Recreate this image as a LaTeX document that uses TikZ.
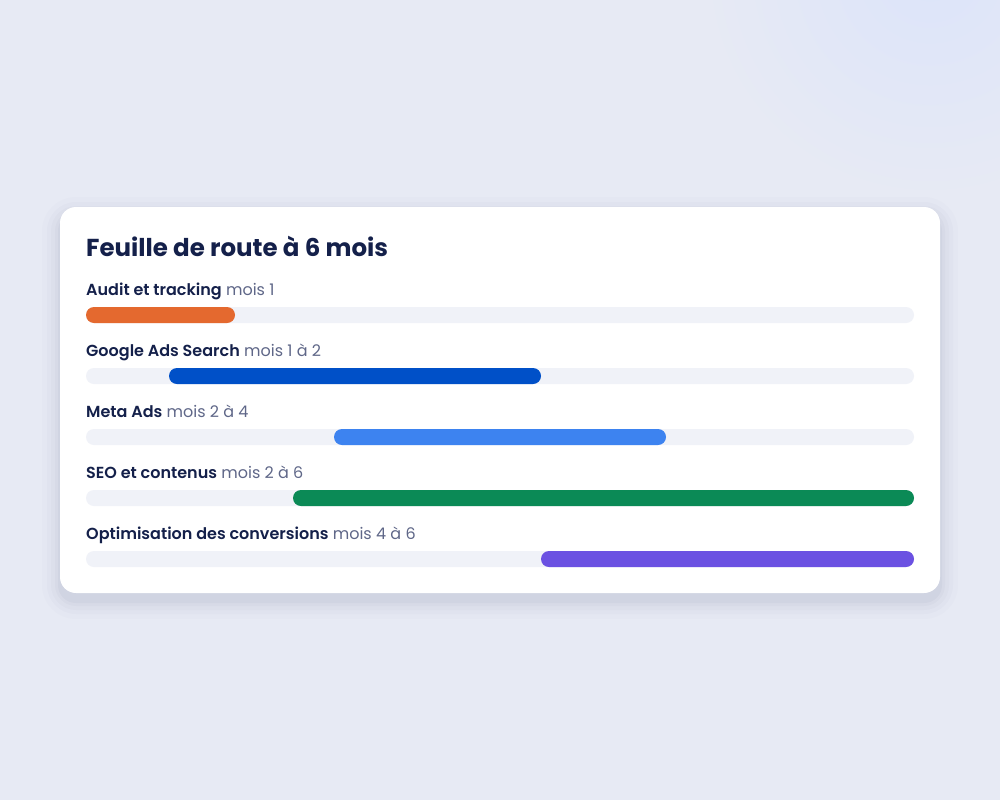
\documentclass[tikz,border=0pt]{standalone}
\usepackage{fontspec}
\setmainfont{Poppins}[BoldFont={Poppins SemiBold}]
\newfontfamily\titlefont{Poppins}[UprightFont={* Bold}]
\usepackage{tikz}
\usetikzlibrary{positioning}
\definecolor{pagebg}{HTML}{E7EAF4}
\definecolor{glow}{HTML}{DCE4FA}
\definecolor{navy}{HTML}{14204A}
\definecolor{muted}{HTML}{5F6788}
\definecolor{trackgray}{HTML}{F0F2F8}
\definecolor{cOrange}{HTML}{E4692F}
\definecolor{cDark}{HTML}{0050C8}
\definecolor{cBlue}{HTML}{3D83F0}
\definecolor{cGreen}{HTML}{0B8A56}
\definecolor{cPurple}{HTML}{6B51E2}
\begin{document}
\begin{tikzpicture}[x=1pt,y=-1pt,
  track/.style={fill=trackgray,rounded corners=8pt},
  bar/.style={fill=#1,rounded corners=8pt},
  rowlabel/.style={anchor=base west,inner sep=0pt,text=navy,
    font=\fontsize{16}{19}\selectfont}]
% page and glow
\fill[pagebg] (0,0) rectangle (1000,800);
\begin{scope}
\clip (0,0) rectangle (1000,800);
\shade[inner color=glow,outer color=pagebg] (700,-260) rectangle (1160,200);
\end{scope}
\useasboundingbox (0,0) rectangle (1000,800);
% card shadow
\foreach \s/\o in {18/0.012,13/0.015,9/0.02,5/0.025,2/0.03}
  \fill[navy,opacity=\o,rounded corners=16pt+\s pt] (60-\s,207-\s+8) rectangle (940+\s,593+\s+8);
\fill[white,rounded corners=16pt] (60,207) rectangle (940,593);
% title
\node[anchor=base west,inner sep=0pt,text=navy,font=\fontsize{24.5}{29}\titlefont]
  (title) at (86,256) {Feuille de route à 6 mois};
% rows
\foreach \i/\task/\when/\from/\to/\col in {
  0/Audit et tracking/mois 1/86/235/cOrange,
  1/Google Ads Search/mois 1 à 2/169/541/cDark,
  2/Meta Ads/mois 2 à 4/334/666/cBlue,
  3/SEO et contenus/mois 2 à 6/293/914/cGreen,
  4/Optimisation des conversions/mois 4 à 6/541/914/cPurple}
{
  \node[rowlabel] (lbl\i) at (86,295+61*\i) {{\bfseries\task} \textcolor{muted}{\when}};
  \fill[track] (86,307+61*\i) rectangle (914,323+61*\i);
  \fill[bar=\col] (\from,307+61*\i) rectangle (\to,323+61*\i);
}
\end{tikzpicture}
\end{document}
